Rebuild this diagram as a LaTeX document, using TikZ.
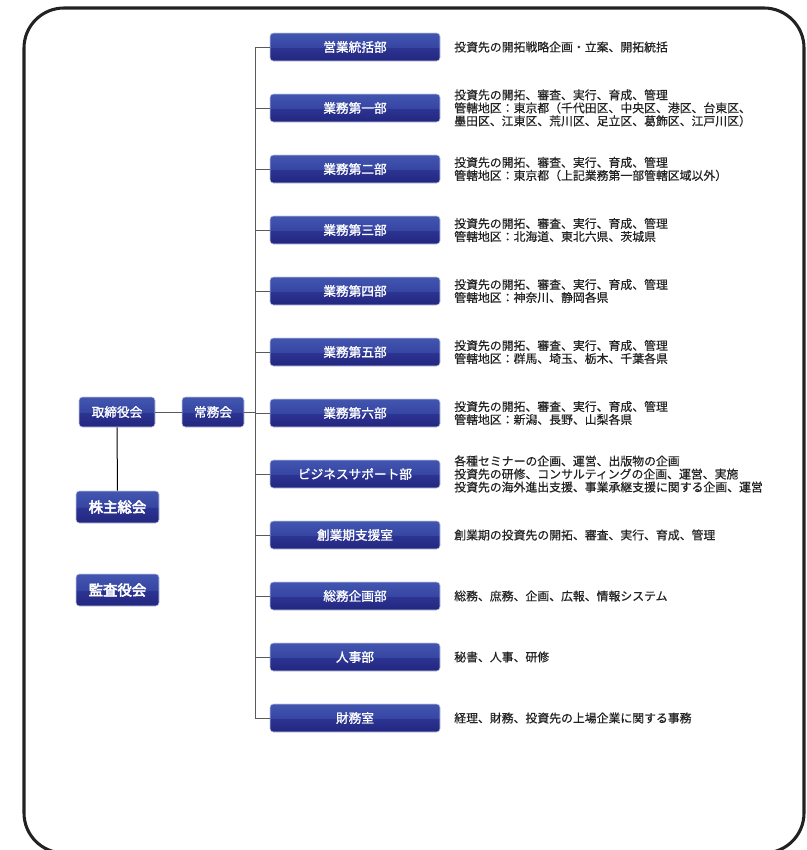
\documentclass[tikz,border=0pt]{standalone}
\usepackage{fontspec}
\newfontfamily\jp[FakeBold=0.5]{Noto Sans CJK JP}
\newfontfamily\jpbold[FakeBold=1.4]{Noto Sans CJK JP}
\newfontfamily\jpheavy[FakeBold=3.5]{Noto Sans CJK JP}
\usetikzlibrary{positioning}
\definecolor{navytop}{RGB}{66,86,176}
\definecolor{navyup}{RGB}{54,70,162}
\definecolor{navylow}{RGB}{44,52,146}
\definecolor{navybot}{RGB}{34,38,126}
\definecolor{edge}{RGB}{196,200,228}
\definecolor{frame}{RGB}{34,34,34}
\definecolor{wire}{RGB}{90,90,90}
\definecolor{desc}{RGB}{34,34,34}
\pgfdeclareverticalshading{deptshade}{100bp}{%
  color(0bp)=(navybot); color(25bp)=(navybot); color(49bp)=(navylow);
  color(50bp)=(navyup); color(75bp)=(navytop); color(100bp)=(navytop)}
\tikzset{
  dept/.style={rectangle, draw=edge, line width=0.4pt, rounded corners=2.5pt,
               shading=deptshade, minimum width=127.5pt, minimum height=21pt,
               inner sep=0pt, text=white, font=\jpbold\fontsize{9.5}{11}\selectfont},
  lead/.style={dept, minimum width=57pt, minimum height=22.5pt},
  body/.style={dept, minimum width=62.25pt, minimum height=24pt,
               font=\jpheavy\fontsize{10.8}{12}\selectfont},
  note/.style={anchor=west, align=left, inner sep=0pt, text=desc,
               font=\jp\fontsize{8.9}{9.75}\selectfont},
  wire/.style={draw=wire, line width=0.75pt},
}
\begin{document}
\begin{tikzpicture}[x=0.75pt,y=-0.75pt]
  \useasboundingbox (0,0) rectangle (807,850);
  % outer frame
  \draw[frame, line width=2.3pt, rounded corners=30pt] (24,8) rectangle (804,853);

  % left side
  \node[lead, minimum width=57pt] (board) at (117,412) {取締役会};
  \node[lead, minimum width=46.5pt] (exec) at (213,412) {常務会};
  \node[body] (share) at (117.5,507) {株主総会};
  \node[body] (audit) at (117.5,590) {監査役会};

  % departments
  \node[dept] (sales) at (355,47)  {営業統括部};
  \node[dept] (ops1)  at (355,108) {業務第一部};
  \node[dept] (ops2)  at (355,169) {業務第二部};
  \node[dept] (ops3)  at (355,230) {業務第三部};
  \node[dept] (ops4)  at (355,291) {業務第四部};
  \node[dept] (ops5)  at (355,352) {業務第五部};
  \node[dept] (ops6)  at (355,413) {業務第六部};
  \node[dept] (bizsup) at (355,474) {ビジネスサポート部};
  \node[dept] (startup) at (355,535) {創業期支援室};
  \node[dept] (general) at (355,596) {総務企画部};
  \node[dept] (hr)    at (355,657) {人事部};
  \node[dept] (fin)   at (355,718) {財務室};

  % descriptions
  \node[note] (salesnote) at (454,47) {投資先の開拓戦略企画・立案、開拓統括};
  \node[note] (ops1note) at (454,108) {投資先の開拓、審査、実行、育成、管理\\
    管轄地区：東京都（千代田区、中央区、港区、台東区、\\
    墨田区、江東区、荒川区、足立区、葛飾区、江戸川区）};
  \node[note] (ops2note) at (454,169) {投資先の開拓、審査、実行、育成、管理\\
    管轄地区：東京都（上記業務第一部管轄区域以外）};
  \node[note] (ops3note) at (454,230) {投資先の開拓、審査、実行、育成、管理\\
    管轄地区：北海道、東北六県、茨城県};
  \node[note] (ops4note) at (454,291) {投資先の開拓、審査、実行、育成、管理\\
    管轄地区：神奈川、静岡各県};
  \node[note] (ops5note) at (454,352) {投資先の開拓、審査、実行、育成、管理\\
    管轄地区：群馬、埼玉、栃木、千葉各県};
  \node[note] (ops6note) at (454,413) {投資先の開拓、審査、実行、育成、管理\\
    管轄地区：新潟、長野、山梨各県};
  \node[note] (bizsupnote) at (454,474) {各種セミナーの企画、運営、出版物の企画\\
    投資先の研修、コンサルティングの企画、運営、実施\\
    投資先の海外進出支援、事業承継支援に関する企画、運営};
  \node[note] (startupnote) at (454,535) {創業期の投資先の開拓、審査、実行、育成、管理};
  \node[note] (generalnote) at (454,596) {総務、庶務、企画、広報、情報システム};
  \node[note] (hrnote) at (454,657) {秘書、人事、研修};
  \node[note] (finnote) at (454,718) {経理、財務、投資先の上場企業に関する事務};

  % connectors
  \coordinate (trunk) at (255,412);
  \draw[wire] (sales.west -| trunk) -- (fin.west -| trunk);
  \draw[wire] (board.east) -- (exec.west);
  \draw[wire] (exec.east) -- (exec.east -| trunk);
  \draw[black, line width=0.75pt] (board.south) -- (share.north);
  \draw[wire] (sales.west -| trunk) -- (sales.west);
  \draw[wire] (ops1.west -| trunk) -- (ops1.west);
  \draw[wire] (ops2.west -| trunk) -- (ops2.west);
  \draw[wire] (ops3.west -| trunk) -- (ops3.west);
  \draw[wire] (ops4.west -| trunk) -- (ops4.west);
  \draw[wire] (ops5.west -| trunk) -- (ops5.west);
  \draw[wire] (ops6.west -| trunk) -- (ops6.west);
  \draw[wire] (bizsup.west -| trunk) -- (bizsup.west);
  \draw[wire] (startup.west -| trunk) -- (startup.west);
  \draw[wire] (general.west -| trunk) -- (general.west);
  \draw[wire] (hr.west -| trunk) -- (hr.west);
  \draw[wire] (fin.west -| trunk) -- (fin.west);
\end{tikzpicture}
\end{document}
